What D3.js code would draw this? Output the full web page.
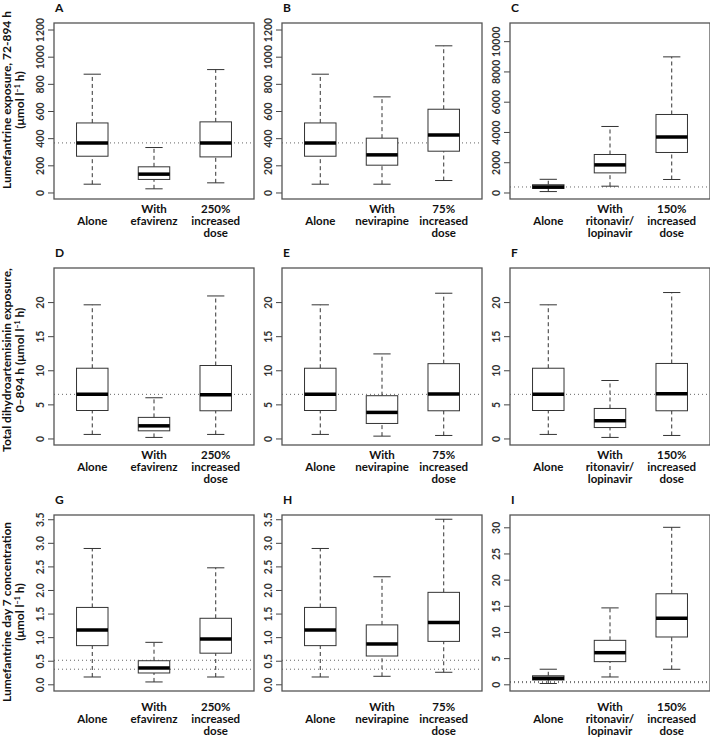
<!DOCTYPE html>
<html>
<head>
<meta charset="utf-8">
<script src="https://cdn.jsdelivr.net/npm/d3@7"></script>
<style>
  html, body { margin: 0; padding: 0; background: #fff; }
  text { font-family: Lato, "Open Sans", sans-serif; }
</style>
</head>
<body>
<svg id="chart" width="710" height="738"></svg>
<script>
// ---------- DATA ----------
const panelLetters = ["A","B","C","D","E","F","G","H","I"];

const comparatorLabels = [
  [["Alone"], ["With","efavirenz"], ["250%","increased","dose"]],
  [["Alone"], ["With","nevirapine"], ["75%","increased","dose"]],
  [["Alone"], ["With","ritonavir/","lopinavir"], ["150%","increased","dose"]]
];

const rowTitles = [
  ["Lumefantrine exposure, 72-894 h", "(μmol l|−1| h)"],
  ["Total dihydroartemisinin exposure,", "0–894 h (μmol l|−1| h)"],
  ["Lumefantrine day 7 concentration", "(μmol l|−1| h)"]
];

// five-number summaries: [lower whisker, Q1, median, Q3, upper whisker]
const statsA = [[61,267,365,512,871], [27,96,135,189,331], [71,262,365,520,905]];
const statsB = [[61,267,365,512,871], [61,201,277,400,704], [88,304,424,613,1080]];
const statsC = [[61,267,365,512,871], [416,1296,1824,2511,4362], [859,2644,3675,5155,8962]];
const statsD = [[0.59,4.1,6.47,10.3,19.6], [0.15,1.12,1.85,3.09,5.97], [0.59,4.06,6.4,10.7,20.9]];
const statsE = [[0.59,4.1,6.47,10.3,19.6], [0.34,2.2,3.82,6.27,12.4], [0.44,4.06,6.51,10.97,21.3]];
const statsF = [[0.59,4.1,6.47,10.3,19.6], [0.15,1.6,2.6,4.4,8.5], [0.44,4.06,6.56,11.0,21.4]];
const statsG = [[0.155,0.82,1.15,1.63,2.88], [0.05,0.24,0.346,0.50,0.89], [0.155,0.66,0.96,1.40,2.47]];
const statsH = [[0.155,0.82,1.15,1.63,2.88], [0.17,0.60,0.855,1.26,2.28], [0.255,0.91,1.31,1.95,3.5]];
const statsI = [[0.155,0.82,1.15,1.63,2.88], [1.4,4.33,6.04,8.4,14.6], [2.87,9.04,12.6,17.3,30.0]];
const panelStats = [statsA, statsB, statsC, statsD, statsE, statsF, statsG, statsH, statsI];

// y-axis limits and tick values per panel
const yLimits = [
  [-48,1248], [-48,1248], [-430,11200],
  [-0.96,25.0], [-0.96,25.0], [-0.96,25.0],
  [-0.142,3.59], [-0.142,3.59], [-1.28,32.35]
];
const ticks1200 = [0,200,400,600,800,1000,1200];
const ticks10000 = [0,2000,4000,6000,8000,10000];
const ticks20 = [0,5,10,15,20];
const ticks35 = [0,0.5,1,1.5,2,2.5,3,3.5];
const ticks30 = [0,5,10,15,20,25,30];
const yTicks = [ticks1200, ticks1200, ticks10000, ticks20, ticks20, ticks20, ticks35, ticks35, ticks30];
const tickFormats = ["d","d","d","d","d","d",".1f",".1f","d"];

// reference (dotted) lines per row
const refLines = [[365], [6.47], [0.51, 0.32]];

// ---------- LAYOUT ----------
const colLeft = [54, 282, 510];
const panelW = 200;
const rowTop = [23, 268, 515];
const rowBottom = [199, 445, 691];
const labelFirstY = [209, 455, 707];
const titleCenterY = [100, 360, 612];

const svg = d3.select("#chart");

function addSupText(sel, str) {
  const parts = str.split("|");
  parts.forEach((p, i) => {
    const t = sel.append("tspan").text(p);
    if (i % 2 === 1) {
      t.attr("baseline-shift", "super").attr("font-size", "7px");
    }
  });
}

for (let r = 0; r < 3; r++) {
  // row title (two lines, rotated)
  const tg = svg.append("g")
    .attr("transform", `translate(0,${titleCenterY[r]})`);
  rowTitles[r].forEach((line, i) => {
    const t = tg.append("text")
      .attr("transform", `translate(${7 + i*12.5},0) rotate(-90)`)
      .attr("text-anchor", "middle")
      .attr("dy", "0.36em")
      .attr("font-size", "12px")
      .attr("font-weight", "bold")
      .attr("fill", "#111");
    addSupText(t, line);
  });

  for (let c = 0; c < 3; c++) {
    const idx = r*3 + c;
    const left = colLeft[c], top = rowTop[r], bottom = rowBottom[r];
    const x = d3.scaleLinear().domain([0.38, 3.62]).range([left, left + panelW]);
    const y = d3.scaleLinear().domain(yLimits[idx]).range([bottom, top]);
    const g = svg.append("g");

    // panel letter
    g.append("text")
      .attr("x", left + 1).attr("y", top - 11)
      .attr("font-size", "12px").attr("font-weight", "bold").attr("fill", "#111")
      .text(panelLetters[idx]);

    // reference lines
    refLines[r].forEach(v => {
      g.append("line")
        .attr("x1", left).attr("x2", left + panelW)
        .attr("y1", y(v)).attr("y2", y(v))
        .attr("stroke", "#666").attr("stroke-width", 1)
        .attr("stroke-dasharray", "1,3");
    });

    // y axis
    const ax = d3.axisLeft(y).tickValues(yTicks[idx])
      .tickFormat(d3.format(tickFormats[idx])).tickSize(6).tickPadding(3);
    const axg = g.append("g").attr("transform", `translate(${left},0)`).call(ax);
    axg.select(".domain").remove();
    axg.selectAll(".tick line").attr("stroke", "#444");
    axg.selectAll(".tick text")
      .attr("transform", "rotate(-90)")
      .attr("x", 0).attr("y", -10)
      .attr("dy", "0em")
      .attr("text-anchor", "middle")
      .attr("font-size", "10.5px")
      .attr("font-weight", "bold")
      .attr("font-family", "Lato, sans-serif")
      .attr("fill", "#333");

    // boxes
    const stats = panelStats[idx];
    const boxHalf = 0.255, capHalf = 0.14;
    stats.forEach((s, i) => {
      const cx = x(i + 1);
      const [lo, q1, med, q3, hi] = s;
      const bw = x(1 + boxHalf) - x(1);
      const cw = x(1 + capHalf) - x(1);
      // whiskers
      [[lo, q1], [q3, hi]].forEach(([a, b]) => {
        g.append("line").attr("x1", cx).attr("x2", cx)
          .attr("y1", y(a)).attr("y2", y(b))
          .attr("stroke", "#333").attr("stroke-width", 1)
          .attr("stroke-dasharray", "4,3");
      });
      [lo, hi].forEach(v => {
        g.append("line").attr("x1", cx - cw).attr("x2", cx + cw)
          .attr("y1", y(v)).attr("y2", y(v))
          .attr("stroke", "#333").attr("stroke-width", 1);
      });
      // box
      g.append("rect")
        .attr("x", cx - bw).attr("width", 2*bw)
        .attr("y", y(q3)).attr("height", y(q1) - y(q3))
        .attr("fill", "#fff").attr("stroke", "#333").attr("stroke-width", 1);
      // median
      g.append("line").attr("x1", cx - bw).attr("x2", cx + bw)
        .attr("y1", y(med)).attr("y2", y(med))
        .attr("stroke", "#000").attr("stroke-width", 3.5);

      // category label
      const lines = comparatorLabels[c][i];
      const off = lines.length === 1 ? 1 : 0;
      lines.forEach((ln, k) => {
        g.append("text")
          .attr("x", cx).attr("y", labelFirstY[r] + (k + off)*12)
          .attr("dy", "0.35em")
          .attr("text-anchor", "middle")
          .attr("font-size", "11.5px").attr("font-weight", "bold").attr("fill", "#111")
          .text(ln);
      });
    });

    // frame
    g.append("rect")
      .attr("x", left).attr("y", top)
      .attr("width", panelW).attr("height", bottom - top)
      .attr("fill", "none").attr("stroke", "#555").attr("stroke-width", 1.3);
  }
}
</script>
</body>
</html>
